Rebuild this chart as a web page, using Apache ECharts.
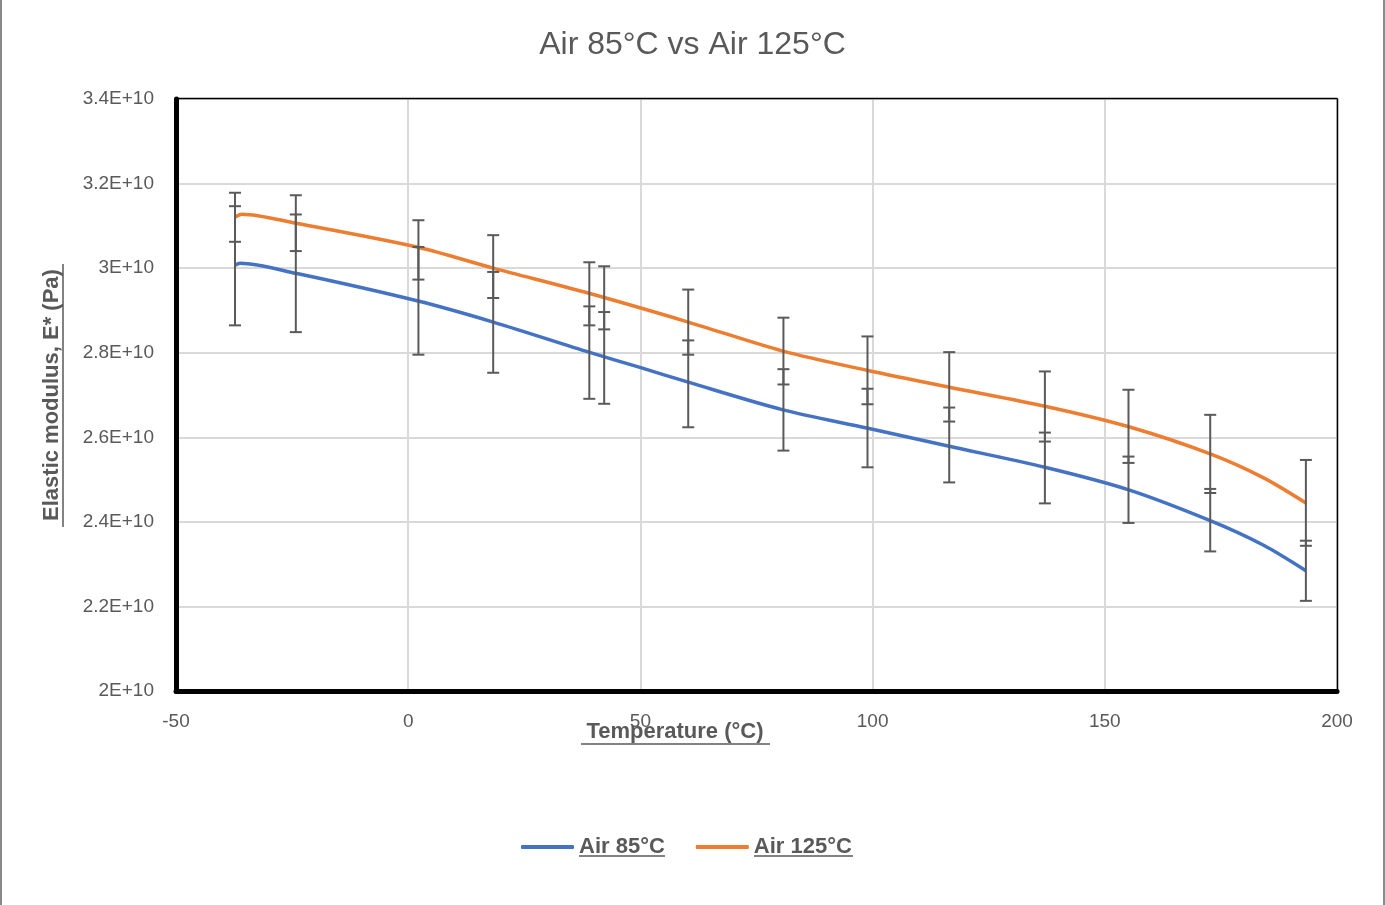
<!DOCTYPE html>
<html><head><meta charset="utf-8">
<script src="https://cdn.jsdelivr.net/npm/echarts@6/dist/echarts.min.js"></script>
<style>html,body{margin:0;padding:0;background:#fff}#c{width:1385px;height:905px}</style>
</head><body><div id="c"></div><script>
// ---- data (E* in Pa, temperature in °C) ----
const seriesNames = ['Air 85°C', 'Air 125°C'];
const lineX85 = [-37.3, -36.2, -24.2, 2.1, 18.3, 38.9, 49.9, 60.3, 80.7, 99.0, 116.5, 137.1, 155.0, 172.7, 184.1, 193.3];
const lineY85 = [3.0068e10, 3.0115e10, 2.9878e10, 2.9222e10, 2.8725e10, 2.8014e10, 2.7652e10, 2.7303e10, 2.6649e10, 2.6214e10, 2.5787e10, 2.5290e10, 2.4761e10, 2.4027e10, 2.3451e10, 2.2843e10];
const lineX125 = [-37.3, -35.8, -24.2, 2.1, 18.3, 38.9, 60.3, 80.7, 99.0, 116.5, 137.1, 155.0, 172.7, 184.1, 193.3];
const lineY125 = [3.1205e10, 3.1276e10, 3.1063e10, 3.0494e10, 3.0000e10, 2.9405e10, 2.8725e10, 2.8038e10, 2.7580e10, 2.7185e10, 2.6735e10, 2.6254e10, 2.5607e10, 2.5046e10, 2.4446e10];
// error bars
const errX = [-37.3, -24.2, 2.2, 18.3, 39.0, 42.2, 60.3, 80.8, 98.9, 116.5, 137.1, 155.1, 172.7, 193.3];
const errMid85 = [3.0056e10, 2.9878e10, 2.9227e10, 2.8718e10, 2.8003e10, 2.7877e10, 2.7264e10, 2.6648e10, 2.6219e10, 2.5818e10, 2.5274e10, 2.4759e10, 2.4040e10, 2.2843e10];
const errHalf85 = [0.1409e10, 0.1391e10, 0.1274e10, 0.1192e10, 0.1093e10, 0.1085e10, 0.1027e10, 0.0963e10, 0.0929e10, 0.0885e10, 0.0837e10, 0.0785e10, 0.0739e10, 0.0711e10];
const errMid125 = [3.1203e10, 3.1064e10, 3.0431e10, 3.0037e10, 2.9393e10, 2.9298e10, 2.8723e10, 2.8039e10, 2.7583e10, 2.7193e10, 2.6728e10, 2.6259e10, 2.5607e10, 2.4449e10];
const errHalf125 = [0.0580e10, 0.0660e10, 0.0702e10, 0.0743e10, 0.0746e10, 0.0746e10, 0.0770e10, 0.0790e10, 0.0802e10, 0.0821e10, 0.0829e10, 0.0865e10, 0.0924e10, 0.1015e10];
const xTicks = {min: -50, max: 200, step: 50};
const yTicks = {min: 2.0e10, max: 3.4e10, step: 0.2e10};

const grey = '#595959';
const font = 'Liberation Sans';

function errSeries(name, mids, halves) {
  return {
    type: 'custom', name: name, z: 5, silent: true,
    data: errX.map((x, i) => [x, mids[i] - halves[i], mids[i] + halves[i]]),
    encode: {x: 0, y: [1, 2]},
    renderItem: function (params, api) {
      const x = api.value(0);
      const lo = api.coord([x, api.value(1)]);
      const hi = api.coord([x, api.value(2)]);
      const w = 6, st = {stroke: '#5a5a5a', lineWidth: 2};
      return {type: 'group', children: [
        {type: 'line', shape: {x1: lo[0], y1: lo[1], x2: hi[0], y2: hi[1]}, style: st},
        {type: 'line', shape: {x1: lo[0] - w, y1: lo[1], x2: lo[0] + w, y2: lo[1]}, style: st},
        {type: 'line', shape: {x1: hi[0] - w, y1: hi[1], x2: hi[0] + w, y2: hi[1]}, style: st}
      ]};
    }
  };
}

const chart = echarts.init(document.getElementById('c'));
chart.setOption({
  backgroundColor: '#fff',
  animation: false,
  title: {text: 'Air 85°C vs Air 125°C', left: 'center', top: 24,
    textStyle: {fontFamily: font, fontSize: 32, fontWeight: 'normal', color: grey}},
  grid: {left: 176, right: 48, top: 99, bottom: 214},
  legend: {
    data: seriesNames, top: 831, left: 516, itemWidth: 53, itemHeight: 4, itemGap: 31,
    icon: 'roundRect',
    textStyle: {fontFamily: font, fontSize: 22, fontWeight: 'bold', color: grey, padding: [0, 0, 0, 0]}
  },
  xAxis: {
    type: 'value', min: xTicks.min, max: xTicks.max, interval: xTicks.step,
    axisLine: {show: true, onZero: false, lineStyle: {color: '#000', width: 5}},
    axisTick: {show: false},
    axisLabel: {fontFamily: font, fontSize: 19, color: grey, margin: 21},
    splitLine: {show: true, lineStyle: {color: '#d9d9d9', width: 2}}
  },
  yAxis: {
    type: 'value', min: yTicks.min, max: yTicks.max, interval: yTicks.step,
    axisLine: {show: true, onZero: false, lineStyle: {color: '#000', width: 5}},
    axisTick: {show: false},
    axisLabel: {fontFamily: font, fontSize: 19, color: grey, margin: 22,
      formatter: v => (Math.round(v / 1e9) / 10) + 'E+10'},
    splitLine: {show: true, lineStyle: {color: '#d9d9d9', width: 2}}
  },
  series: [
    {type: 'line', name: seriesNames[0], data: lineX85.map((x, i) => [x, lineY85[i]]),
      smooth: 0.3, showSymbol: false, lineStyle: {color: '#4472C4', width: 3.5}, itemStyle: {color: '#4472C4'}, z: 3},
    {type: 'line', name: seriesNames[1], data: lineX125.map((x, i) => [x, lineY125[i]]),
      smooth: 0.3, showSymbol: false, lineStyle: {color: '#ED7D31', width: 3.5}, itemStyle: {color: '#ED7D31'}, z: 3},
    errSeries('err85', errMid85, errHalf85),
    errSeries('err125', errMid125, errHalf125)
  ],
  graphic: [
    {type: 'rect', left: 0, top: 0, z: 100, shape: {width: 2, height: 905}, style: {fill: '#8a8a8a'}},
    {type: 'rect', left: 1383, top: 0, z: 100, shape: {width: 2, height: 905}, style: {fill: '#8a8a8a'}},
    {type: 'line', z: 100, shape: {x1: 176, y1: 98.5, x2: 1337.5, y2: 98.5}, style: {stroke: '#000', lineWidth: 1.5}},
    {type: 'line', z: 100, shape: {x1: 1337.5, y1: 98.5, x2: 1337.5, y2: 690}, style: {stroke: '#000', lineWidth: 1.5}},
    {type: 'text', x: 675, y: 732, style: {text: 'Temperature (°C)', fontFamily: font, fontSize: 22, fontWeight: 'bold', fill: grey, align: 'center', verticalAlign: 'middle'}},
    {type: 'line', shape: {x1: 581, y1: 744, x2: 770, y2: 744}, style: {stroke: grey, lineWidth: 1.5}},
    {type: 'text', x: 52, y: 395, rotation: Math.PI / 2, style: {text: 'Elastic modulus, E* (Pa)', fontFamily: font, fontSize: 22, fontWeight: 'bold', fill: grey, align: 'center', verticalAlign: 'middle'}},
    {type: 'line', shape: {x1: 63, y1: 264, x2: 63, y2: 527}, style: {stroke: grey, lineWidth: 1.5}},
    {type: 'line', shape: {x1: 579, y1: 856, x2: 665, y2: 856}, style: {stroke: grey, lineWidth: 1.5}},
    {type: 'line', shape: {x1: 754, y1: 856, x2: 853, y2: 856}, style: {stroke: grey, lineWidth: 1.5}}
  ]
});
</script></body></html>
